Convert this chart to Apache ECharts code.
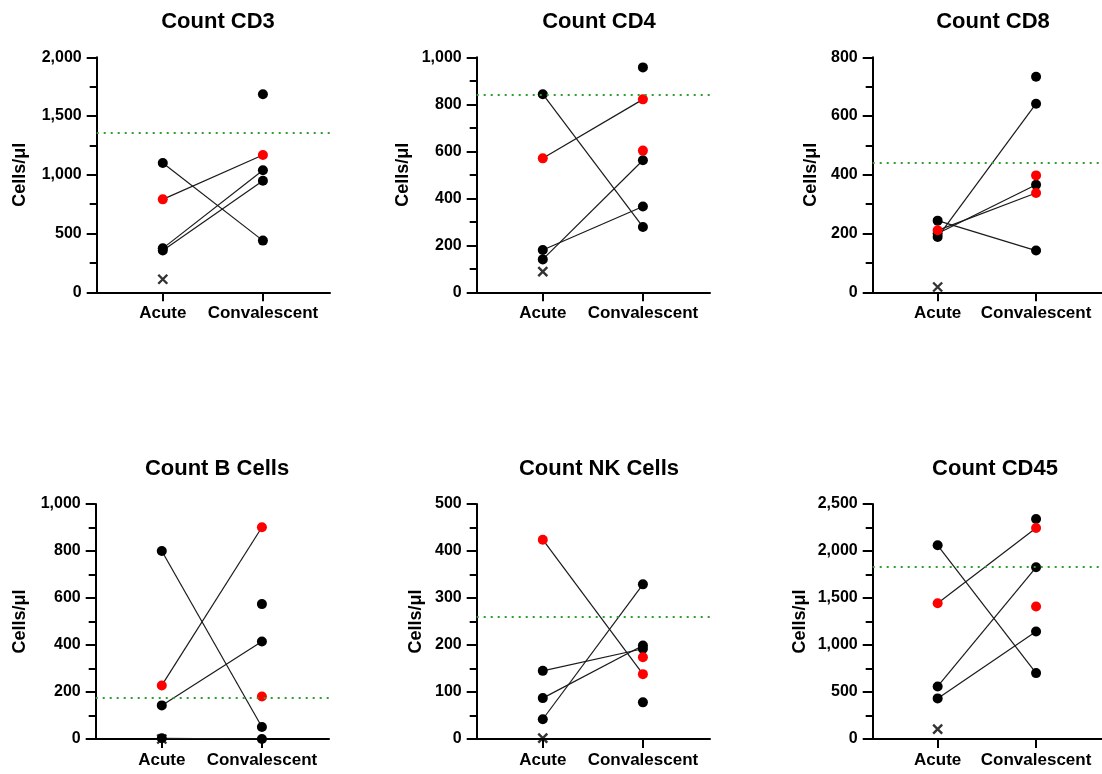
<!DOCTYPE html>
<html>
<head>
<meta charset="utf-8">
<script src="https://cdn.jsdelivr.net/npm/echarts@6/dist/echarts.min.js"></script>
<style>
  html, body { margin: 0; padding: 0; background: #fff; }
  #chart { width: 1102px; height: 774px; }
</style>
</head>
<body>
<div id="chart"></div>
<script>
// groups on the x axis
const groups = ['Acute', 'Convalescent']
const titles = ['Count CD3', 'Count CD4', 'Count CD8', 'Count B Cells', 'Count NK Cells', 'Count CD45']
const yMax = [2000, 1000, 800, 1000, 500, 2500]
const yStep = [500, 200, 200, 200, 100, 500]
// green dotted reference level
const refLevel = [1356, 841, 440, 174, 260, 1834]

// one entry per panel
const acuteBlack = [[1100, 374, 355], [843, 180, 140], [244, 200, 188], [800, 143, 3], [145, 87, 42], [2061, 559, 432]]
const acuteRed = [[791], [570], [211], [228], [424], [1445]]
const acuteCross = [[111], [88], [18], [0], [2], [106]]
const convBlack = [[1685, 1038, 950, 440], [957, 562, 365, 278], [734, 642, 366, 142], [574, 415, 51, 0], [329, 199, 192, 78], [2341, 1827, 1144, 701]]
const convRed = [[1169], [821, 603], [398, 338], [901, 181], [174, 138], [2245, 1409]]
// paired samples [acute, convalescent]
const pairs = [
  [[1100, 440], [791, 1169], [374, 1038], [355, 950]],
  [[843, 278], [570, 821], [140, 562], [180, 365]],
  [[188, 642], [211, 338], [200, 366], [244, 142]],
  [[800, 51], [228, 901], [143, 415], [3, 0]],
  [[424, 138], [42, 329], [145, 192], [87, 199]],
  [[2061, 701], [1445, 2245], [559, 1827], [432, 1144]]
]

const font = "'Liberation Sans', Arial, sans-serif"
const lefts = [96.7, 476.7, 872.7, 95.7, 476.7, 872.7]
const tops = [57.3, 57.3, 57.3, 504, 504, 504]
const nameGaps = [68, 65, 53, 67, 52, 64]
const titleX = [213, 594, 988, 212, 594, 990]
const titleY = [6, 6, 6, 453, 453, 453]
const crossPath = 'path://M0,0L10,10M10,0L0,10'

const chartInstance = echarts.init(document.getElementById('chart'))

const option = { animation: false, title: [], grid: [], xAxis: [], yAxis: [], series: [] }

titles.forEach((t, i) => {
  option.title.push({
    text: t, left: titleX[i], top: titleY[i], textAlign: 'center',
    textStyle: { fontFamily: font, fontWeight: 'bold', fontSize: 22, color: '#000' }
  })
  option.grid.push({ left: lefts[i], top: tops[i], width: 233.3, height: 235 })
  option.xAxis.push({
    gridIndex: i, type: 'value', min: -0.66, max: 1.67,
    axisLine: { show: true, onZero: false, lineStyle: { color: '#000', width: 2 } },
    axisTick: { show: true, customValues: [0, 1], length: 9, lineStyle: { color: '#000', width: 2 } },
    axisLabel: {
      customValues: [0, 1], margin: 13, formatter: v => groups[Math.round(v)],
      fontFamily: font, fontWeight: 'bold', fontSize: 17, color: '#000'
    },
    splitLine: { show: false }
  })
  option.yAxis.push({
    gridIndex: i, type: 'value', min: 0, max: yMax[i], interval: yStep[i],
    name: 'Cells/\u03bcl', nameLocation: 'middle', nameGap: nameGaps[i], nameRotate: 90,
    nameTextStyle: { fontFamily: font, fontWeight: 'bold', fontSize: 18, color: '#000' },
    axisLine: { show: true, onZero: false, lineStyle: { color: '#000', width: 2 } },
    axisTick: { show: true, length: 10, lineStyle: { color: '#000', width: 2 } },
    minorTick: { show: true, splitNumber: 2, length: 7, lineStyle: { color: '#000', width: 2 } },
    axisLabel: {
      margin: 15, formatter: v => v.toLocaleString('en-US'),
      fontFamily: font, fontWeight: 'bold', fontSize: 16, color: '#000'
    },
    splitLine: { show: false }
  })
  option.series.push({
    type: 'lines', coordinateSystem: 'cartesian2d', xAxisIndex: i, yAxisIndex: i,
    lineStyle: { color: '#1a1a1a', width: 1.2, opacity: 1 },
    data: pairs[i].map(p => ({ coords: [[0, p[0]], [1, p[1]]] })),
    markLine: {
      silent: true, symbol: 'none', label: { show: false },
      lineStyle: { color: '#2f9e2f', width: 2.2, type: [2, 5] },
      data: [{ yAxis: refLevel[i] }]
    },
    z: 2
  })
  const dots = (xs, vals, color) => ({
    type: 'scatter', xAxisIndex: i, yAxisIndex: i, symbolSize: 10,
    itemStyle: { color: color, opacity: 1 },
    data: vals.map(v => [xs, v]), z: 3
  })
  option.series.push(dots(0, acuteBlack[i], '#000'))
  option.series.push(dots(1, convBlack[i], '#000'))
  option.series.push(dots(0, acuteRed[i], '#ff0000'))
  option.series.push(dots(1, convRed[i], '#ff0000'))
  option.series.push({
    type: 'scatter', xAxisIndex: i, yAxisIndex: i, symbol: crossPath, symbolSize: 9,
    itemStyle: { color: 'none', borderColor: '#000', borderWidth: 2.4 },
    data: acuteCross[i].map(v => [0, v]), z: 3
  })
})

chartInstance.setOption(option)
</script>
</body>
</html>
